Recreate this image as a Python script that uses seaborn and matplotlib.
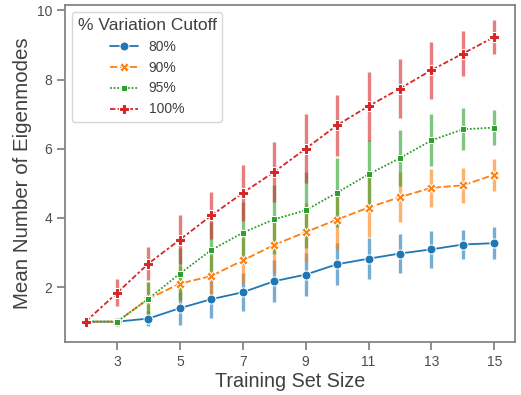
import numpy as np
import pandas as pd
import matplotlib
matplotlib.use("Agg")
import matplotlib.pyplot as plt
import seaborn as sns

# Training set sizes
sizes = list(range(2, 16))

# Mean number of eigenmodes per cutoff
mean_80 = [1.00, 1.00, 1.09, 1.39, 1.65, 1.85, 2.17, 2.36, 2.66, 2.82, 2.97, 3.09, 3.23, 3.27]
mean_90 = [1.00, 1.00, 1.66, 2.10, 2.32, 2.77, 3.22, 3.59, 3.95, 4.30, 4.60, 4.87, 4.94, 5.25]
mean_95 = [1.00, 1.00, 1.66, 2.39, 3.07, 3.57, 3.96, 4.22, 4.73, 5.26, 5.73, 6.24, 6.56, 6.61]
mean_100 = [1.00, 1.83, 2.68, 3.37, 4.07, 4.72, 5.33, 6.00, 6.68, 7.23, 7.74, 8.27, 8.75, 9.23]

# Half-width of the error bars
err_80 = [0.00, 0.00, 0.22, 0.48, 0.55, 0.55, 0.60, 0.63, 0.60, 0.60, 0.57, 0.53, 0.43, 0.47]
err_90 = [0.00, 0.00, 0.48, 0.50, 0.60, 0.65, 0.80, 0.85, 0.85, 0.85, 0.72, 0.55, 0.50, 0.46]
err_95 = [0.00, 0.00, 0.48, 0.75, 0.80, 0.90, 1.00, 1.10, 1.00, 1.00, 0.80, 0.75, 0.61, 0.50]
err_100 = [0.00, 0.39, 0.48, 0.70, 0.67, 0.80, 0.86, 1.00, 0.88, 1.00, 0.84, 0.82, 0.66, 0.48]

cutoffs = ["80%", "90%", "95%", "100%"]
means = [mean_80, mean_90, mean_95, mean_100]
errs = [err_80, err_90, err_95, err_100]

hue_name = "% Variation Cutoff"
df = pd.DataFrame({
    "Training Set Size": np.tile(sizes, len(cutoffs)),
    "Mean Number of Eigenmodes": np.concatenate(means),
    "err": np.concatenate(errs),
    hue_name: np.repeat(cutoffs, len(sizes)),
})

sns.set_theme(style="ticks")
plt.rcParams["font.family"] = ["Liberation Sans", "DejaVu Sans"]
plt.rcParams["axes.edgecolor"] = ".5"
plt.rcParams["xtick.color"] = ".5"
plt.rcParams["ytick.color"] = ".5"
plt.rcParams["xtick.labelcolor"] = ".3"
plt.rcParams["ytick.labelcolor"] = ".3"

palette = dict(zip(cutoffs, sns.color_palette("tab10", 4)))

fig = plt.figure(figsize=(5.21, 3.95), dpi=100)
ax = fig.add_axes([0.125, 0.134, 0.863, 0.853])

# Error bars underneath the lines, in hue order
for c in cutoffs:
    sub = df[df[hue_name] == c]
    ax.errorbar(sub["Training Set Size"], sub["Mean Number of Eigenmodes"],
                yerr=sub["err"], fmt="none", ecolor=palette[c],
                elinewidth=2.4, alpha=0.6, zorder=1.5)

sns.lineplot(data=df, x="Training Set Size", y="Mean Number of Eigenmodes",
             hue=hue_name, style=hue_name, markers=True, dashes=True,
             palette=palette, errorbar=None, ax=ax, zorder=2,
             linewidth=1.3, markersize=6.5)

ax.set_xticks([3, 5, 7, 9, 11, 13, 15])
ax.set_yticks([2, 4, 6, 8, 10])
ax.set_xlim(1.35, 15.65)
ax.set_ylim(0.41, 10.15)
for s in ["top", "right"]:
    ax.spines[s].set_visible(True)
ax.tick_params(labelsize=10)
ax.set_xlabel("Training Set Size", fontsize=14.2, color=".25", labelpad=2)
ax.set_ylabel("Mean Number of Eigenmodes", fontsize=14.8, color=".25", labelpad=3)

leg = ax.legend(title=hue_name, loc="upper left", fontsize=10,
                title_fontsize=12.5, frameon=True)
leg.get_title().set_color(".25")
for t in leg.get_texts():
    t.set_color(".25")

fig.savefig("out.png", dpi=100)
